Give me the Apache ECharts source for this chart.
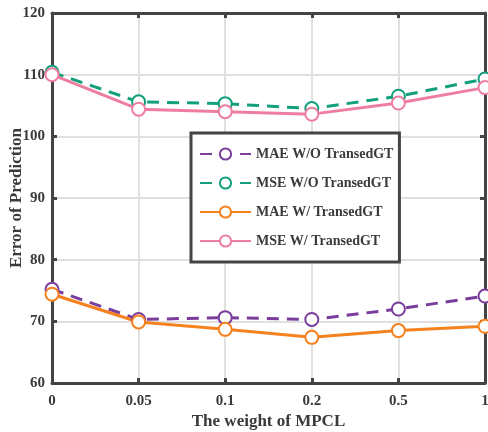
<!DOCTYPE html>
<html><head><meta charset="utf-8">
<script src="https://cdn.jsdelivr.net/npm/echarts@6/dist/echarts.min.js"></script>
<style>html,body{margin:0;padding:0;background:#fff}#c{width:488px;height:432px}</style>
</head><body><div id="c"></div>
<script>
const categories = ['0', '0.05', '0.1', '0.2', '0.5', '1'];
const maeWithout = [75.2, 70.3, 70.6, 70.3, 72.0, 74.1];
const mseWithout = [110.4, 105.6, 105.3, 104.5, 106.5, 109.3];
const maeWith = [74.4, 69.9, 68.7, 67.4, 68.5, 69.2];
const mseWith = [110.0, 104.4, 104.0, 103.6, 105.4, 107.9];
const seriesNames = ['MAE W/O TransedGT', 'MSE W/O TransedGT', 'MAE W/ TransedGT', 'MSE W/ TransedGT'];
const colors = ['#7a3d9c', '#14a07d', '#f5821f', '#ee7ea0'];
const yTicks = {min: 60, max: 120, interval: 10};

const font = 'Liberation Serif';
const axisColor = '#444';
const textColor = '#3a3a3a';
function mkSeries(name, data, color, dashed) {
  return {
    name, type: 'line', data,
    symbol: 'emptyCircle', symbolSize: 13,
    lineStyle: {color, width: 3, type: dashed ? [12, 8] : 'solid'},
    itemStyle: {color, borderColor: color, borderWidth: 3},
    z: 3
  };
}
const chart = echarts.init(document.getElementById('c'), null, {renderer: 'canvas'});
chart.setOption({
  animation: false,
  backgroundColor: '#fff',
  grid: {left: 52, right: 3, top: 13, bottom: 49, containLabel: false, outerBoundsMode: 'none'},
  xAxis: [{
    type: 'category', data: categories, boundaryGap: false, position: 'bottom',
    name: 'The weight of MPCL', nameLocation: 'middle', nameGap: 30, nameMoveOverlap: false,
    nameTextStyle: {fontFamily: font, fontWeight: 'bold', fontSize: 17, color: textColor},
    axisLine: {lineStyle: {color: axisColor, width: 3}},
    axisTick: {inside: true, length: 5, lineStyle: {color: axisColor, width: 3}},
    axisLabel: {fontFamily: font, fontWeight: 'bold', fontSize: 15, color: textColor, margin: 11},
    splitLine: {show: true, lineStyle: {color: '#e0e0e0', width: 2}}
  }, {
    type: 'category', data: categories, boundaryGap: false, position: 'top',
    axisLine: {lineStyle: {color: axisColor, width: 3}},
    axisTick: {inside: true, length: 5, lineStyle: {color: axisColor, width: 3}},
    axisLabel: {show: false}, splitLine: {show: false}
  }],
  yAxis: [{
    type: 'value', min: yTicks.min, max: yTicks.max, interval: yTicks.interval, position: 'left',
    name: 'Error of Prediction', nameLocation: 'middle', nameGap: 27, nameMoveOverlap: false,
    nameTextStyle: {fontFamily: font, fontWeight: 'bold', fontSize: 17, color: textColor},
    axisLine: {show: true, lineStyle: {color: axisColor, width: 3}},
    axisTick: {show: true, inside: true, length: 5, lineStyle: {color: axisColor, width: 3}},
    axisLabel: {fontFamily: font, fontWeight: 'bold', fontSize: 15, color: textColor, margin: 7},
    splitLine: {show: true, lineStyle: {color: '#e0e0e0', width: 2}}
  }, {
    type: 'value', min: yTicks.min, max: yTicks.max, interval: yTicks.interval, position: 'right',
    axisLine: {show: true, lineStyle: {color: axisColor, width: 3}},
    axisTick: {show: true, inside: true, length: 5, lineStyle: {color: axisColor, width: 3}},
    axisLabel: {show: false}, splitLine: {show: false}
  }],
  legend: {
    orient: 'vertical', left: 191, top: 133,
    padding: [13, 6, 13, 8], itemGap: 13, itemWidth: 51, itemHeight: 14,
    backgroundColor: '#fff', borderColor: axisColor, borderWidth: 3,
    textStyle: {fontFamily: font, fontWeight: 'bold', fontSize: 14, color: textColor, lineHeight: 16},
    data: seriesNames
  },
  series: [
    mkSeries(seriesNames[0], maeWithout, colors[0], true),
    mkSeries(seriesNames[1], mseWithout, colors[1], true),
    mkSeries(seriesNames[2], maeWith, colors[2], false),
    mkSeries(seriesNames[3], mseWith, colors[3], false)
  ]
});
</script></body></html>
